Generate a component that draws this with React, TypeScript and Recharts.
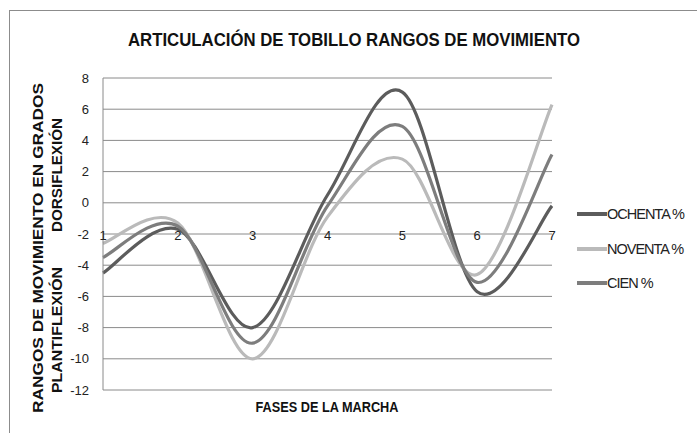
import React from 'react';
import { LineChart, Line, XAxis, YAxis, CartesianGrid } from 'recharts';

const fases = ['1', '2', '3', '4', '5', '6', '7'];
const ochenta = [-4.5, -1.7, -8, 0.5, 7.1, -5.7, -0.2];
const noventa = [-2.6, -1.3, -10, -0.9, 2.8, -4.6, 6.3];
const cien = [-3.5, -1.5, -9, -0.2, 4.9, -5.1, 3.1];
const yTicks = [-12, -10, -8, -6, -4, -2, 0, 2, 4, 6, 8];

const series = [
  { key: 'ochenta', name: 'OCHENTA %', color: '#5c5c5c' },
  { key: 'noventa', name: 'NOVENTA %', color: '#bababa' },
  { key: 'cien', name: 'CIEN %', color: '#7d7d7d' },
];

const data = fases.map((f, i) => ({
  fase: f,
  ochenta: ochenta[i],
  noventa: noventa[i],
  cien: cien[i],
}));

// curva suavizada tipo Excel (Catmull-Rom con Bezier)
const excelCurve = (context: any) => {
  let pts: [number, number][] = [];
  return {
    areaStart() {},
    areaEnd() {},
    lineStart() {
      pts = [];
    },
    point(x: number, y: number) {
      pts.push([+x, +y]);
    },
    lineEnd() {
      if (!pts.length) return;
      context.moveTo(pts[0][0], pts[0][1]);
      for (let i = 0; i < pts.length - 1; i++) {
        const p0 = pts[i - 1] || pts[i];
        const p1 = pts[i];
        const p2 = pts[i + 1];
        const p3 = pts[i + 2] || p2;
        context.bezierCurveTo(
          p1[0] + (p2[0] - p0[0]) / 6,
          p1[1] + (p2[1] - p0[1]) / 6,
          p2[0] - (p3[0] - p1[0]) / 6,
          p2[1] - (p3[1] - p1[1]) / 6,
          p2[0],
          p2[1]
        );
      }
    },
  };
};

const font = "'Liberation Sans', Arial, sans-serif";

// etiquetas de categoria junto al eje en cero
const CatTick = (props: any) => {
  const { x, y, payload } = props;
  return (
    <text x={x} y={y - 163} textAnchor="middle" dominantBaseline="central" fontSize={13} fontFamily={font} fill="#222">
      {payload.value}
    </text>
  );
};

export default function App() {
  return (
    <div style={{ position: 'absolute', left: 0, top: 0, width: 697, height: 433, overflow: 'hidden', background: '#fff' }}>
      <div style={{ position: 'absolute', left: 9, top: 10, width: 720, height: 460, border: '1.5px solid #8c8c8c' }} />
      <div style={{ position: 'absolute', left: 0, top: 0 }}>
        <LineChart width={697} height={433} data={data} margin={{ top: 78, right: 145, bottom: 0, left: 0 }}>
          <CartesianGrid vertical={false} stroke="#8a8a8a" />
          <XAxis
            dataKey="fase"
            height={43}
            axisLine={false}
            tickLine={false}
            tick={<CatTick />}
            interval={0}
          />
          <YAxis
            width={103}
            domain={[-12, 8]}
            ticks={yTicks}
            interval={0}
            tickSize={0}
            tickMargin={14}
            axisLine={{ stroke: '#8a8a8a' }}
            tick={{ fontSize: 13, fontFamily: font, fill: '#222' }}
          />
          {series.map((s) => (
            <Line
              key={s.key}
              name={s.name}
              dataKey={s.key}
              type={excelCurve as any}
              stroke={s.color}
              strokeWidth={3.2}
              dot={false}
              activeDot={false}
              isAnimationActive={false}
            />
          ))}
        </LineChart>
      </div>
      <div style={{ position: 'absolute', left: 577, top: 197, width: 120 }}>
        {series.map((s) => (
          <div key={s.key} style={{ display: 'flex', alignItems: 'center', height: 34.5 }}>
            <div style={{ width: 30, height: 4, background: s.color }} />
            <span style={{ fontFamily: font, fontSize: 14.5, color: '#222', letterSpacing: -1 }}>{s.name}</span>
          </div>
        ))}
      </div>
      <svg width={697} height={433} style={{ position: 'absolute', left: 0, top: 0, pointerEvents: 'none' }}>
        <text x={354} y={39} textAnchor="middle" dominantBaseline="central" fontFamily={font} fontWeight="bold" fontSize={19} fill="#111" textLength={452} lengthAdjust="spacingAndGlyphs">
          ARTICULACIÓN DE TOBILLO RANGOS DE MOVIMIENTO
        </text>
        <text x={327} y={407} textAnchor="middle" dominantBaseline="central" fontFamily={font} fontWeight="bold" fontSize={14} fill="#111" textLength={143} lengthAdjust="spacingAndGlyphs">
          FASES DE LA MARCHA
        </text>
        <text transform="translate(38,248) rotate(-90)" textAnchor="middle" dominantBaseline="central" fontFamily={font} fontWeight="bold" fontSize={14} fill="#111" textLength={330} lengthAdjust="spacingAndGlyphs">
          RANGOS DE MOVIMIENTO EN GRADOS
        </text>
        <text transform="translate(57,330) rotate(-90)" textAnchor="middle" dominantBaseline="central" fontFamily={font} fontWeight="bold" fontSize={14} fill="#111" textLength={126} lengthAdjust="spacingAndGlyphs">
          PLANTIFLEXIÓN
        </text>
        <text transform="translate(57,175) rotate(-90)" textAnchor="middle" dominantBaseline="central" fontFamily={font} fontWeight="bold" fontSize={14} fill="#111" textLength={114} lengthAdjust="spacingAndGlyphs">
          DORSIFLEXIÓN
        </text>
      </svg>
    </div>
  );
}
